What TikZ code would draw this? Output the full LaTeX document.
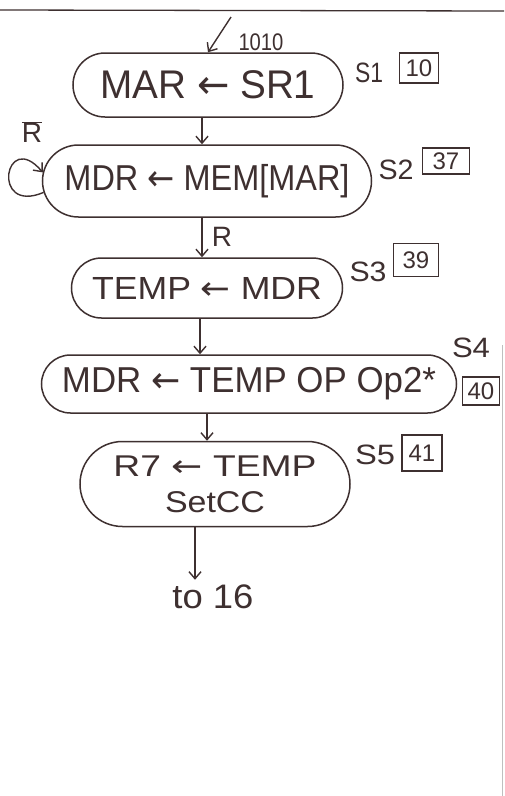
\documentclass[tikz,border=0pt]{standalone}
\usepackage{fontspec}
\setmainfont{Liberation Sans}
\newfontfamily\arrfont{DejaVu Sans}
\usetikzlibrary{arrows.meta,shapes.misc}
\definecolor{ink}{RGB}{62,48,48}
\newcommand\hw[2]{\resizebox{#1}{\height}{#2}}
\newcommand\la{{\arrfont ←}}
\begin{document}
\begin{tikzpicture}[x=1pt,y=-1pt,
  state/.style={rounded rectangle, draw=ink, line width=1.5pt, inner sep=0pt, text=ink},
  arr/.style={draw=ink, line width=1.4pt, -{Straight Barb[length=7pt,width=12pt,line width=1.4pt]}},
  lbl/.style={text=ink, inner sep=0pt, font=\fontsize{28}{28}\selectfont},
  numbox/.style={draw=ink, line width=1.2pt, inner sep=0pt, text=ink, font=\fontsize{24}{24}\selectfont},
]
\useasboundingbox (0,0) rectangle (504,796);
\fill[white] (0,0) rectangle (504,796);
\draw[ink, line width=1.3pt] (0,10) -- (504,11);
\draw[gray!50, line width=0.8pt] (502,345) -- (502,796);

\node[state, minimum width=270pt, minimum height=64pt] (S1) at (208,85)
  {\hw{215pt}{\fontsize{40}{40}\selectfont MAR \la{} SR1}};
\node[state, minimum width=329pt, minimum height=72pt] (S2) at (207,181)
  {\hw{285pt}{\fontsize{36}{36}\selectfont MDR \la{} MEM[MAR]}};
\node[state, minimum width=271pt, minimum height=60pt] (S3) at (207,288)
  {\hw{230pt}{\fontsize{32}{32}\selectfont TEMP \la{} MDR}};
\node[state, minimum width=415pt, minimum height=58pt] (S4) at (249,384)
  {\hw{374pt}{\fontsize{36}{36}\selectfont MDR \la{} TEMP OP Op2*}};
\node[state, minimum width=270pt, minimum height=85pt, align=center] (S5) at (215,484)
  {\hw{203pt}{\fontsize{30}{30}\selectfont R7 \la{} TEMP}\\[14pt]\hw{100pt}{\fontsize{30}{30}\selectfont SetCC}};

\node[lbl] (l1) at (369,73) {\hw{28pt}{S1}};
\node[lbl] (l2) at (396,170) {\hw{35pt}{S2}};
\node[lbl] (l3) at (368,272) {\hw{37pt}{S3}};
\node[lbl] (l4) at (471,348) {\hw{38pt}{S4}};
\node[lbl] (l5) at (375,455) {\hw{40pt}{S5}};

\node[numbox, minimum width=39pt, minimum height=30pt] (b1) at (419,68) {10};
\node[numbox, minimum width=47pt, minimum height=26pt] (b2) at (446,161) {37};
\node[numbox, minimum width=45pt, minimum height=33pt] (b3) at (416,260) {39};
\node[numbox, minimum width=37pt, minimum height=28pt] (b4) at (481,391) {40};
\node[numbox, minimum width=40pt, minimum height=36pt] (b5) at (422,453) {41};

\node[lbl, font=\fontsize{24}{24}\selectfont] (t1010) at (261,42) {\hw{45pt}{1010}};
\node[lbl] (Rbar) at (32,132) {$\overline{\mbox{R}}$};
\node[lbl] (Rlab) at (222,237) {R};
\node[lbl, font=\fontsize{34}{34}\selectfont] (to16) at (213,597) {\hw{81pt}{to 16}};

\coordinate (entry) at (231,17);
\draw[arr] (entry) -- (S1.north);
\draw[arr] (S1.south -| 202,0) -- (S2.north -| 202,0);
\draw[arr] (S2.south -| 202,0) -- (S3.north -| 202,0);
\draw[arr] (S3.south -| 200,0) -- (S4.north -| 200,0);
\draw[arr] (S4.south -| 207,0) -- (S5.north -| 207,0);
\draw[arr, shorten >=5pt] (S5.south -| 195,0) -- (to16.north -| 195,0);
\draw[arr] (S2.184) .. controls (-10,215) and (5,128) .. (S2.177);
\end{tikzpicture}
\end{document}
